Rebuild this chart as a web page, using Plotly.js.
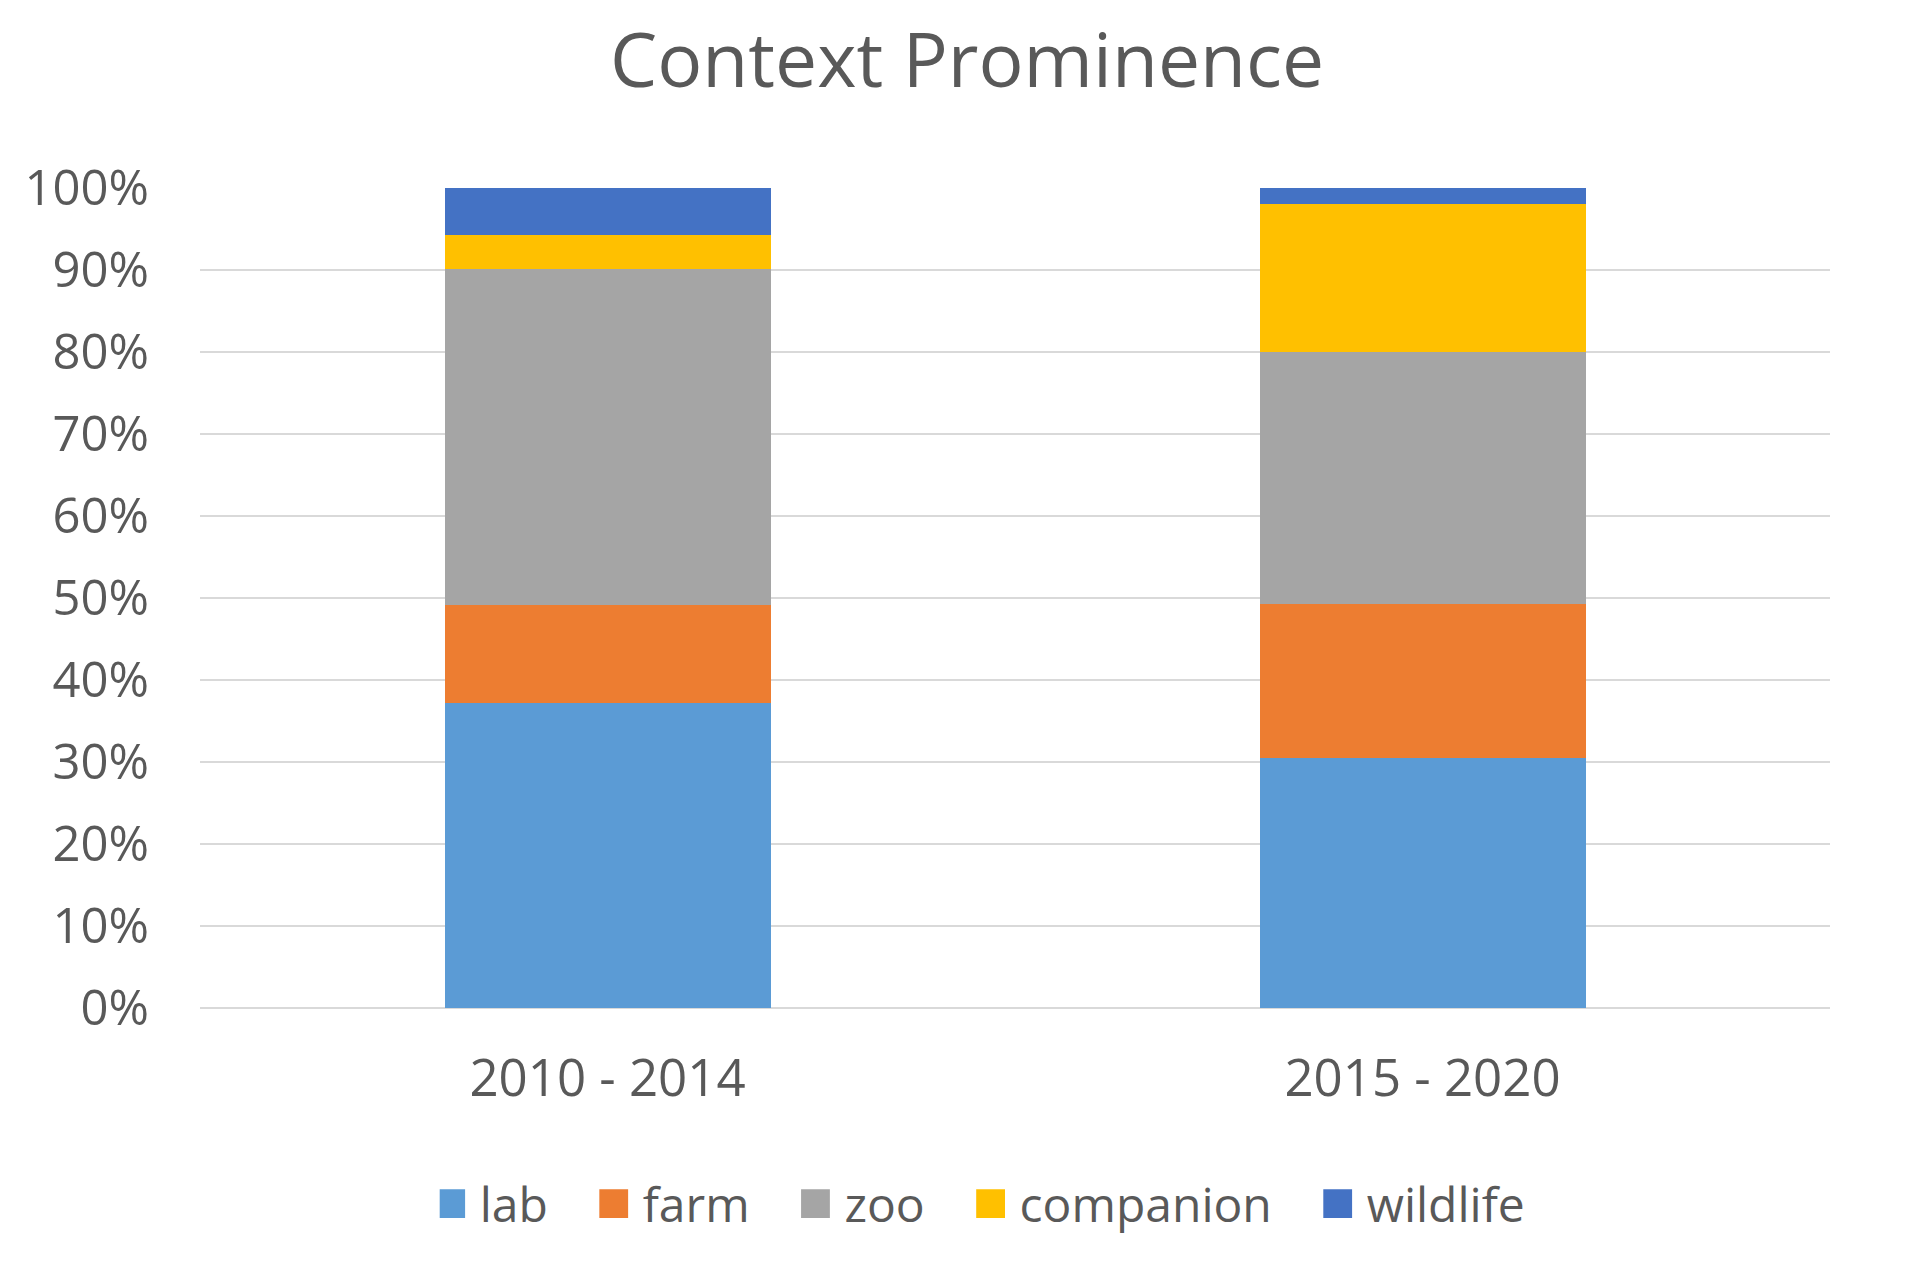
<!DOCTYPE html>
<html>
<head>
<meta charset="utf-8">
<script src="https://cdn.plot.ly/plotly-3.0.1.min.js"></script>
<style>html,body{margin:0;padding:0;background:#fff;}#chart{width:1913px;height:1262px;}</style>
</head>
<body>
<div id="chart"></div>
<script>
var categories = ["2010 - 2014", "2015 - 2020"];
var seriesNames = ["lab", "farm", "zoo", "companion", "wildlife"];
var lab = [37.2, 30.5];
var farm = [12.0, 18.8];
var zoo = [40.9, 30.7];
var companion = [4.2, 18.0];
var wildlife = [5.7, 2.0];
var yTicks = [0, 10, 20, 30, 40, 50, 60, 70, 80, 90, 100];

var seriesValues = [lab, farm, zoo, companion, wildlife];
var colors = ["#5B9BD5", "#ED7D31", "#A5A5A5", "#FFC000", "#4472C4"];
var font = "'Open Sans', 'Noto Sans', sans-serif";
var textColor = "#595959";
var legendPad = "\u00a0\u00a0\u00a0\u00a0";

var traces = seriesNames.map(function (name, i) {
  return {
    type: "bar",
    name: i < seriesNames.length - 1 ? name + legendPad : name,
    x: categories,
    y: seriesValues[i],
    marker: { color: colors[i], line: { width: 0 } },
    hoverinfo: "skip"
  };
});

var layout = {
  width: 1913,
  height: 1262,
  barmode: "stack",
  bargap: 0.6,
  paper_bgcolor: "#ffffff",
  plot_bgcolor: "#ffffff",
  margin: { l: 200, r: 83, t: 188, b: 254, pad: 0 },
  title: {
    text: "Context Prominence",
    font: { family: font, size: 75, color: textColor },
    xref: "container", x: 0.5055, xanchor: "center",
    yref: "container", y: 0.952, yanchor: "middle"
  },
  xaxis: {
    type: "category",
    showgrid: false,
    showline: false,
    zeroline: false,
    ticks: "",
    ticklabelstandoff: 36,
    tickfont: { family: font, size: 51, color: textColor }
  },
  yaxis: {
    range: [0, 100],
    tickvals: yTicks,
    ticktext: yTicks.map(function (v) { return v + "%"; }),
    showgrid: true,
    gridcolor: "#d9d9d9",
    gridwidth: 2.5,
    zeroline: true,
    zerolinecolor: "#d9d9d9",
    zerolinewidth: 2.5,
    showline: false,
    ticks: "",
    ticklabelstandoff: 50,
    tickfont: { family: font, size: 49, color: textColor }
  },
  showlegend: true,
  legend: {
    orientation: "h",
    traceorder: "normal",
    xref: "container", x: 0.515, xanchor: "center",
    yref: "container", y: 0.046, yanchor: "middle",
    font: { family: font, size: 48, color: textColor },
    itemwidth: 30,
    bgcolor: "rgba(0,0,0,0)"
  }
};

Plotly.newPlot("chart", traces, layout, { staticPlot: true, displayModeBar: false }).then(function (gd) {
  var pts = gd.querySelectorAll(".legend .legendpoints path");
  pts.forEach(function (p) {
    var t = p.getAttribute("transform") || "";
    p.setAttribute("transform", t + " translate(-9,0) scale(2.4)");
  });
});
</script>
</body>
</html>
